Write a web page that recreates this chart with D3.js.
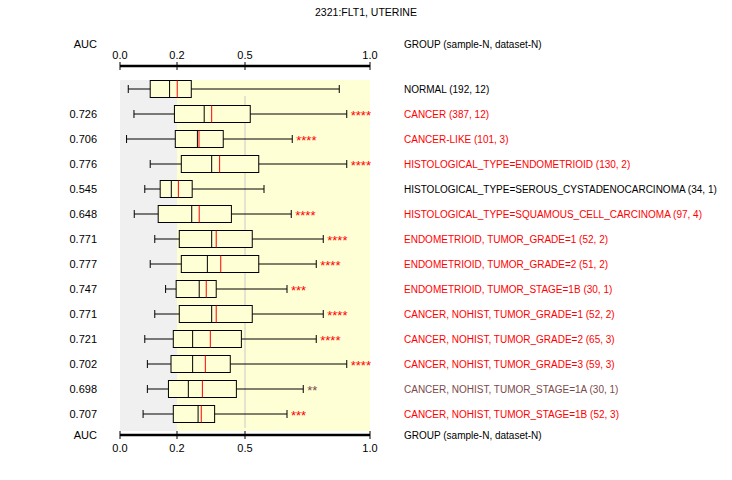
<!DOCTYPE html>
<html><head><meta charset="utf-8">
<script src="https://cdn.jsdelivr.net/npm/d3@7"></script>
<style>body{margin:0;background:#fff}text{font-family:"Liberation Sans",Arial,sans-serif;font-size:11px}</style>
</head><body><svg id="chart" width="732" height="480"></svg>
<script>
let groups = ['NORMAL (192, 12)','CANCER (387, 12)','CANCER-LIKE (101, 3)','HISTOLOGICAL_TYPE=ENDOMETRIOID (130, 2)',
  'HISTOLOGICAL_TYPE=SEROUS_CYSTADENOCARCINOMA (34, 1)','HISTOLOGICAL_TYPE=SQUAMOUS_CELL_CARCINOMA (97, 4)',
  'ENDOMETRIOID, TUMOR_GRADE=1 (52, 2)','ENDOMETRIOID, TUMOR_GRADE=2 (51, 2)','ENDOMETRIOID, TUMOR_STAGE=1B (30, 1)',
  'CANCER, NOHIST, TUMOR_GRADE=1 (52, 2)','CANCER, NOHIST, TUMOR_GRADE=2 (65, 3)','CANCER, NOHIST, TUMOR_GRADE=3 (59, 3)',
  'CANCER, NOHIST, TUMOR_STAGE=1A (30, 1)','CANCER, NOHIST, TUMOR_STAGE=1B (52, 3)']
let auc = ['','0.726','0.706','0.776','0.545','0.648','0.771','0.777','0.747','0.771','0.721','0.702','0.698','0.707']
let stars = ['','****','****','****','','****','****','****','***','****','****','****','**','***']
let kind = ['n','r','r','r','n','r','r','r','r','r','r','r','b','r']
let whiskLo = [0.029,0.049,0.023,0.106,0.087,0.050,0.122,0.106,0.160,0.122,0.087,0.096,0.096,0.081]
let q1 =      [0.106,0.191,0.194,0.219,0.141,0.134,0.210,0.219,0.197,0.210,0.187,0.179,0.170,0.187]
let median =  [0.174,0.320,0.290,0.353,0.180,0.265,0.353,0.334,0.298,0.353,0.269,0.269,0.250,0.293]
let mean =    [0.201,0.353,0.297,0.388,0.206,0.298,0.373,0.393,0.329,0.373,0.347,0.325,0.312,0.307]
let q3 =      [0.263,0.521,0.404,0.555,0.267,0.440,0.529,0.555,0.373,0.529,0.484,0.435,0.462,0.366]
let whiskHi = [0.877,0.907,0.689,0.907,0.576,0.685,0.813,0.785,0.668,0.813,0.785,0.907,0.733,0.668]
let ticks = [0, 0.2, 0.5, 1.0]

let colors = {n: '#000', r: '#ff0000', b: '#7b4a4a'}
let svg = d3.select('#chart')
let x = d3.scaleLinear().domain([0, 0.2, 0.5, 1]).range([120, 177, 245, 370])
let y = d3.scalePoint().domain(d3.range(groups.length)).range([89, 414])

svg.append('text').attr('x', 366).attr('y', 16).attr('text-anchor', 'middle').style('font-size', '10.5px').text('2321:FLT1, UTERINE')

// background bands
svg.append('rect').attr('x', x(0)).attr('y', 80).attr('width', x(0.2) - x(0)).attr('height', 351).attr('fill', '#f0f0f0')
svg.append('rect').attr('x', x(0.2)).attr('y', 80).attr('width', x(1) - x(0.2)).attr('height', 351).attr('fill', '#ffffd6')
svg.append('line').attr('x1', x(0.5)).attr('x2', x(0.5)).attr('y1', 96).attr('y2', 428).attr('stroke', '#c8c8c8').attr('stroke-width', 1)

let drawAxis = (ay, ly) => {
  svg.append('line').attr('x1', x(0)).attr('x2', x(1)).attr('y1', ay).attr('y2', ay).attr('stroke', '#000').attr('stroke-width', 2.5)
  ticks.forEach(t => {
    svg.append('line').attr('x1', x(t)).attr('x2', x(t)).attr('y1', ay - 4).attr('y2', ay + 4).attr('stroke', '#000').attr('stroke-width', 1)
    svg.append('text').attr('x', x(t)).attr('y', ly).attr('text-anchor', 'middle').text(d3.format('.1f')(t))
  })
  svg.append('text').attr('x', 97).attr('y', ay - 18 + (ly > ay ? 22 : 0)).attr('text-anchor', 'end').text('AUC')
  svg.append('text').attr('x', 404).attr('y', ay - 18 + (ly > ay ? 22 : 0)).style('font-size', '10px').text('GROUP (sample-N, dataset-N)')
}
drawAxis(66, 59)
drawAxis(435, 452)

let bh = 17
groups.forEach((g, i) => {
  let cy = y(i)
  let row = svg.append('g')
  row.append('line').attr('x1', x(whiskLo[i])).attr('x2', x(whiskHi[i])).attr('y1', cy).attr('y2', cy).attr('stroke', '#000')
  ;[whiskLo[i], whiskHi[i]].forEach(v => row.append('line').attr('x1', x(v)).attr('x2', x(v)).attr('y1', cy - 4).attr('y2', cy + 4).attr('stroke', '#000'))
  row.append('rect').attr('x', x(q1[i])).attr('y', cy - bh / 2).attr('width', x(q3[i]) - x(q1[i])).attr('height', bh)
    .attr('fill', '#ffffd6').attr('stroke', '#000')
  row.append('line').attr('x1', x(median[i])).attr('x2', x(median[i])).attr('y1', cy - bh / 2).attr('y2', cy + bh / 2).attr('stroke', '#000')
  row.append('line').attr('x1', x(mean[i])).attr('x2', x(mean[i])).attr('y1', cy - bh / 2).attr('y2', cy + bh / 2).attr('stroke', '#ff0000')
  row.append('text').attr('x', x(whiskHi[i]) + 4).attr('y', cy + 6).attr('fill', colors[kind[i]])
    .style('font-size', '13px').text(stars[i])
  row.append('text').attr('x', 97).attr('y', cy + 4).attr('text-anchor', 'end').text(auc[i])
  row.append('text').attr('x', 404).attr('y', cy + 4).attr('fill', colors[kind[i]]).style('font-size', '10px').text(g)
})
</script></body></html>
